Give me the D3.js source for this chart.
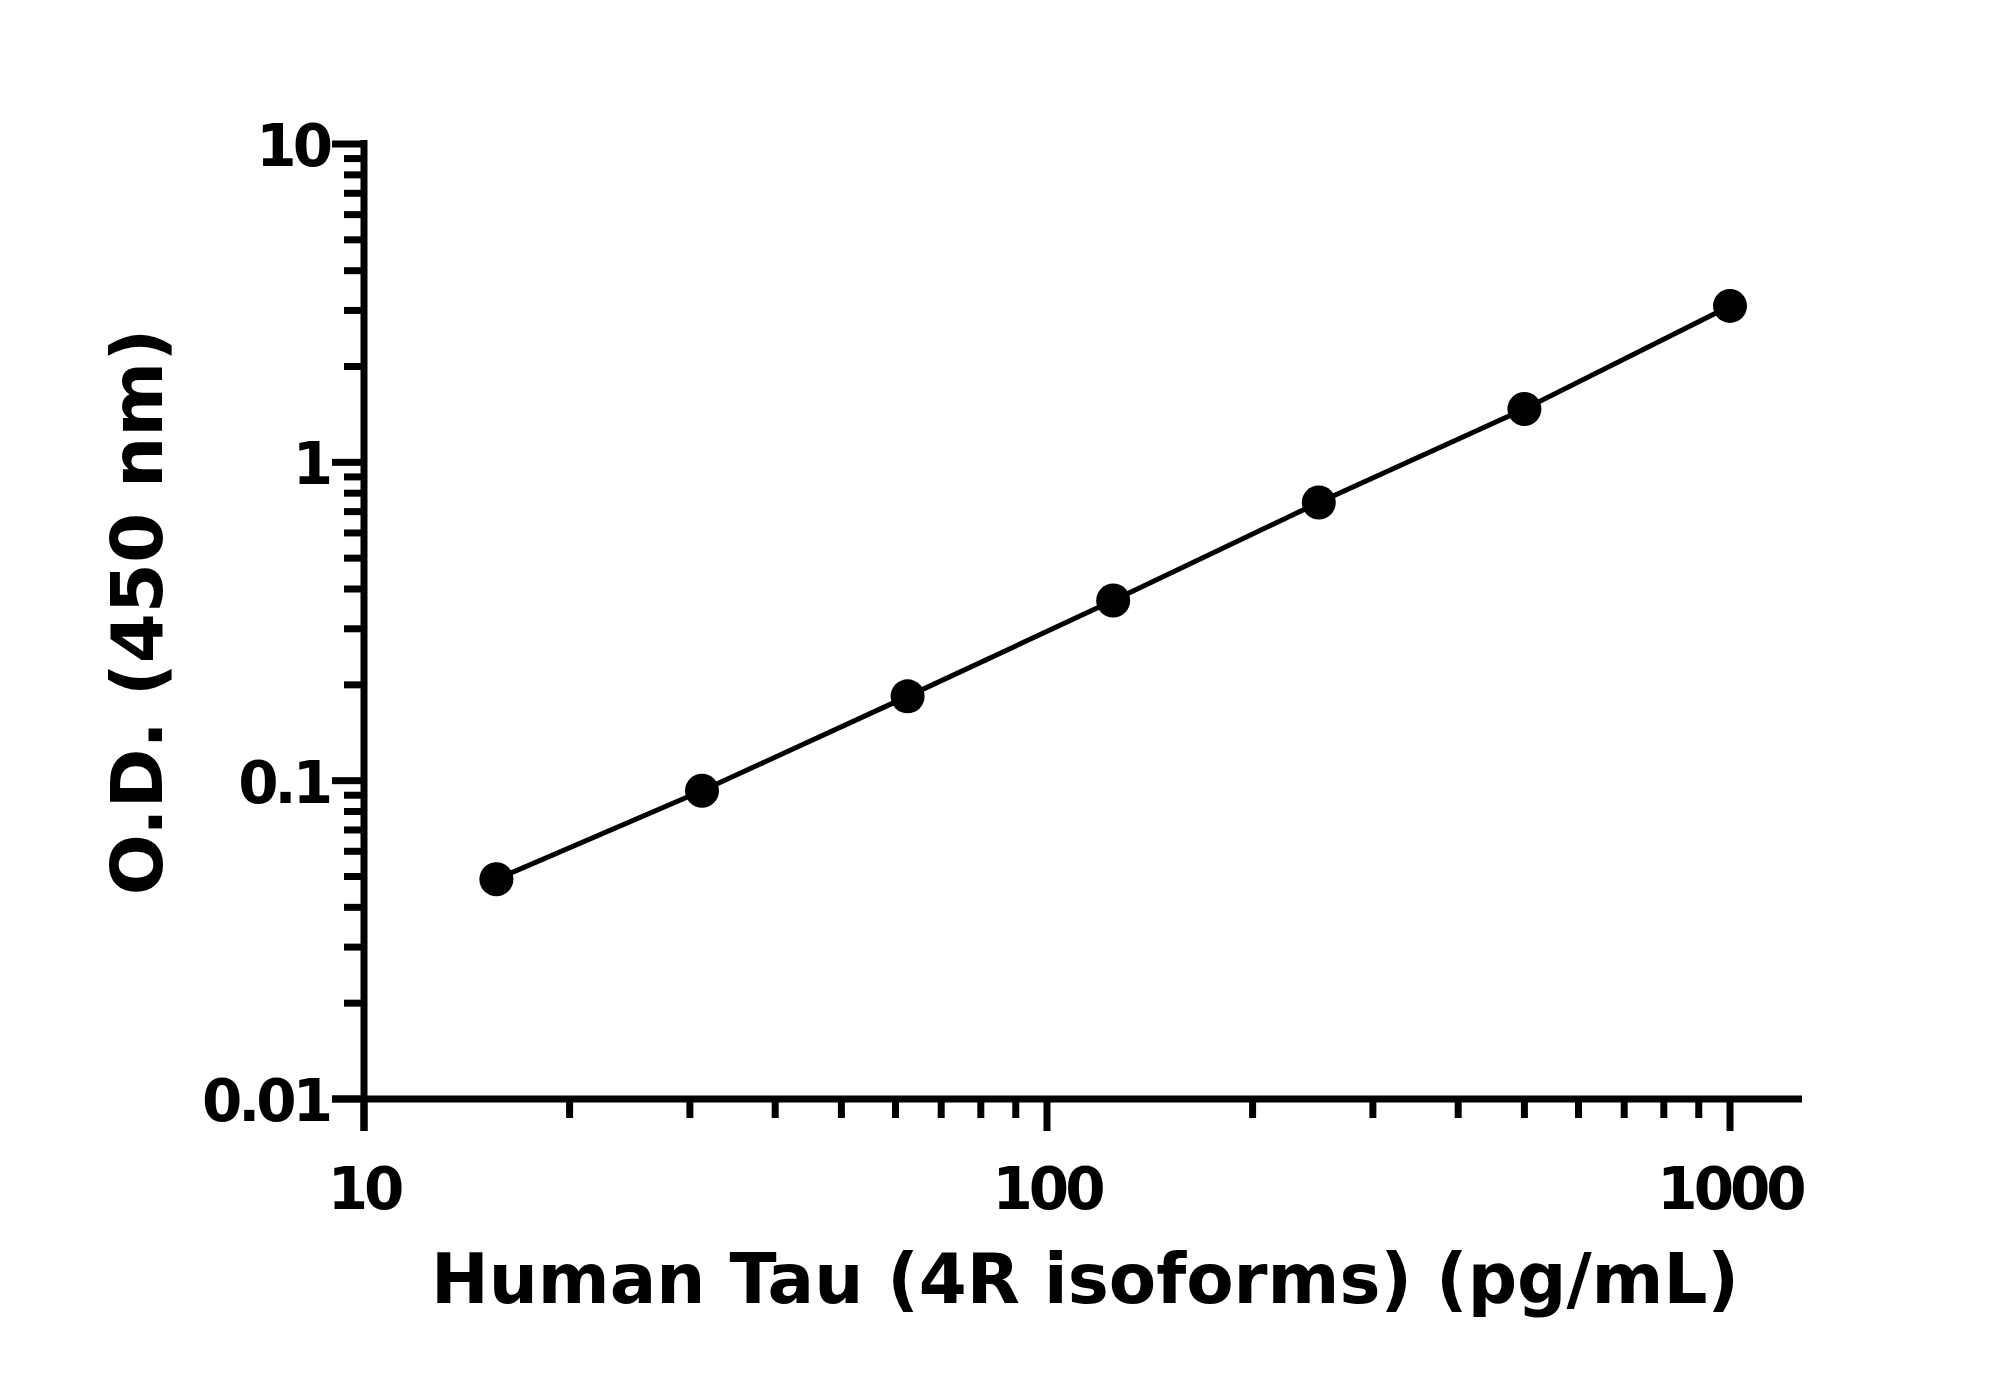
<!DOCTYPE html>
<html><head><meta charset="utf-8">
<script src="https://cdn.jsdelivr.net/npm/d3@7"></script>
<style>body{margin:0;background:#fff}</style></head>
<body><svg id="c" width="2000" height="1386"></svg>
<script>
const concentrations=[15.625,31.25,62.5,125,250,500,1000];
const odValues=[0.049,0.093,0.184,0.368,0.748,1.47,3.1];
const xTickLabels=["10","100","1000"];
const yTickLabels=["0.01","0.1","1","10"];
const svg=d3.select("#c");
const x=d3.scaleLog().domain([10,1000]).range([364,1730]);
const y=d3.scaleLog().domain([0.01,10]).range([1099,144]);
const font="'DejaVu Sans', sans-serif";
const yMinor=[];for(let d=0.01;d<10;d*=10)for(let k=2;k<=9;k++)yMinor.push(d*k);
const xMinor=[];for(let d=10;d<1000;d*=10)for(let k=2;k<=9;k++)xMinor.push(d*k);
const g=svg.append("g").attr("stroke","#000").attr("stroke-width",7);
g.selectAll(".ym").data(yMinor).enter().append("line").attr("x1",344).attr("x2",364).attr("y1",d=>y(d)).attr("y2",d=>y(d));
g.selectAll(".yM").data(yTickLabels).enter().append("line").attr("x1",332).attr("x2",364).attr("y1",d=>y(+d)).attr("y2",d=>y(+d));
g.selectAll(".xm").data(xMinor).enter().append("line").attr("y1",1099).attr("y2",1118).attr("x1",d=>x(d)).attr("x2",d=>x(d));
g.selectAll(".xM").data(xTickLabels).enter().append("line").attr("y1",1099).attr("y2",1131).attr("x1",d=>x(+d)).attr("x2",d=>x(+d));
g.append("line").attr("x1",364).attr("x2",364).attr("y1",140).attr("y2",1131);
g.append("line").attr("x1",332).attr("x2",1802).attr("y1",1099).attr("y2",1099);
svg.selectAll(".yl").data(yTickLabels).enter().append("text").attr("x",329).attr("y",d=>y(+d)+22)
 .attr("text-anchor","end").attr("font-family",font).attr("font-weight","bold").attr("font-size",58).attr("letter-spacing",-4).text(d=>d);
svg.selectAll(".xl").data(xTickLabels).enter().append("text").attr("x",d=>x(+d)).attr("y",1209)
 .attr("text-anchor","middle").attr("font-family",font).attr("font-weight","bold").attr("font-size",58).attr("letter-spacing",-4).text(d=>d);
const line=d3.line().x((d,i)=>x(concentrations[i])).y(d=>y(d));
svg.append("path").attr("d",line(odValues)).attr("fill","none").attr("stroke","#000").attr("stroke-width",5);
svg.selectAll(".pt").data(odValues).enter().append("circle").attr("cx",(d,i)=>x(concentrations[i])).attr("cy",d=>y(d)).attr("r",17).attr("fill","#000");
svg.append("text").attr("x",1085).attr("y",1303).attr("text-anchor","middle").attr("font-family",font).attr("font-weight","bold").attr("font-size",69).text("Human Tau (4R isoforms) (pg/mL)");
svg.append("text").attr("transform","translate(162,612) rotate(-90)").attr("text-anchor","middle").attr("font-family",font).attr("font-weight","bold").attr("font-size",72).text("O.D. (450 nm)");
</script></body></html>
